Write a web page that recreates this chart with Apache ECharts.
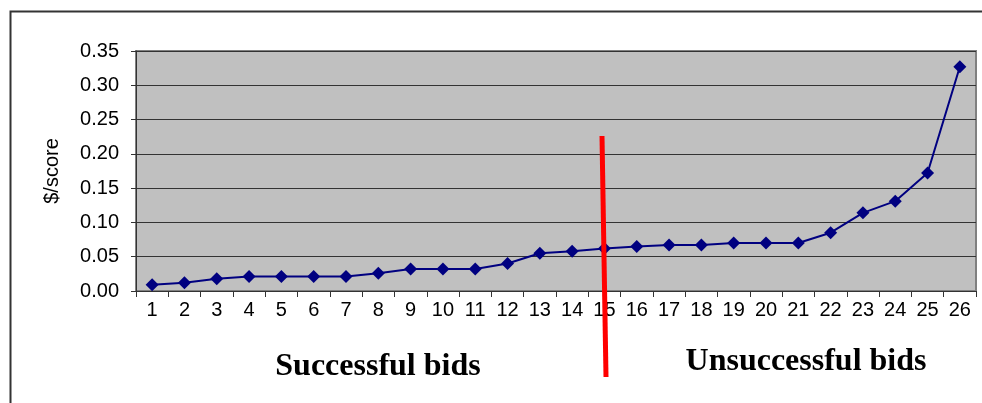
<!DOCTYPE html>
<html>
<head>
<meta charset="utf-8">
<script src="https://cdn.jsdelivr.net/npm/echarts@6/dist/echarts.min.js"></script>
<style>
  html, body { margin: 0; padding: 0; background: #fff; }
  #chart { width: 982px; height: 403px; }
</style>
</head>
<body>
<div id="chart"></div>
<script>
// Bid rank along the x axis
const bidNumbers = ['1','2','3','4','5','6','7','8','9','10','11','12','13','14','15','16','17','18','19','20','21','22','23','24','25','26'];
// Cost per score point for each bid
const costPerScore = [0.009, 0.012, 0.018, 0.021, 0.021, 0.021, 0.021, 0.026, 0.032, 0.032, 0.032, 0.040, 0.055, 0.058, 0.062, 0.065, 0.067, 0.067, 0.070, 0.070, 0.070, 0.085, 0.114, 0.131, 0.172, 0.327];
// Value-axis range and step
const yMin = 0, yMax = 0.35, yStep = 0.05;
const yAxisTitle = '$/score';
const groupLabels = ['Successful bids', 'Unsuccessful bids'];

const chart = echarts.init(document.getElementById('chart'), null, { renderer: 'canvas' });

const labelFont = { fontFamily: 'Liberation Sans, Arial, sans-serif', fontSize: 20, color: '#000' };
const groupFont = 'bold 32px "Liberation Serif", "Times New Roman", serif';

chart.setOption({
  animation: false,
  backgroundColor: '#fff',
  grid: {
    left: 136, right: 6, top: 51, bottom: 112,
    show: true,
    backgroundColor: '#c0c0c0',
    borderColor: '#808080',
    borderWidth: 2
  },
  xAxis: {
    type: 'category',
    data: bidNumbers,
    boundaryGap: true,
    axisLine: { show: true, lineStyle: { color: '#333', width: 1 } },
    axisTick: { show: true, alignWithLabel: false, length: 6, lineStyle: { color: '#333' } },
    axisLabel: Object.assign({ margin: 9, interval: 0 }, labelFont),
    splitLine: { show: false }
  },
  yAxis: {
    type: 'value',
    min: yMin, max: yMax, interval: yStep,
    name: yAxisTitle,
    nameLocation: 'middle',
    nameGap: 74,
    nameRotate: 90,
    nameTextStyle: { fontFamily: 'Liberation Sans, Arial, sans-serif', fontSize: 20, color: '#000' },
    axisLine: { show: true, lineStyle: { color: '#333', width: 1 } },
    axisTick: { show: true, length: 5, lineStyle: { color: '#333' } },
    axisLabel: Object.assign({ margin: 17, formatter: v => v.toFixed(2) }, labelFont),
    splitLine: { show: true, lineStyle: { color: '#333', width: 1 } }
  },
  series: [{
    type: 'line',
    data: costPerScore,
    symbol: 'diamond',
    symbolSize: 13,
    lineStyle: { color: '#000080', width: 2 },
    itemStyle: { color: '#000080' },
    z: 3
  }],
  graphic: [
    // chart frame
    {
      type: 'rect', silent: true, z: -1,
      shape: { x: 10.5, y: 11.5, width: 990, height: 420 },
      style: { fill: 'none', stroke: '#333', lineWidth: 2 }
    },
    // divider between successful and unsuccessful bids
    {
      type: 'line', silent: true, z: 10,
      shape: { x1: 602, y1: 136, x2: 606, y2: 377 },
      style: { stroke: '#ff0000', lineWidth: 5 }
    },
    {
      type: 'text', silent: true, z: 10,
      style: {
        x: 378, y: 367, text: groupLabels[0],
        font: groupFont,
        fill: '#000', textAlign: 'center', textVerticalAlign: 'middle'
      }
    },
    {
      type: 'text', silent: true, z: 10,
      style: {
        x: 806, y: 362, text: groupLabels[1],
        font: groupFont,
        fill: '#000', textAlign: 'center', textVerticalAlign: 'middle'
      }
    }
  ]
});
</script>
</body>
</html>
